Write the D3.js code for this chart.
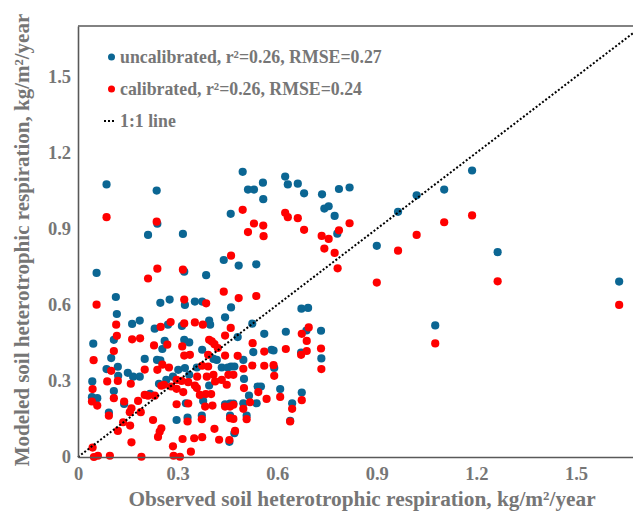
<!DOCTYPE html>
<html>
<head>
<meta charset="utf-8">
<script src="https://cdn.jsdelivr.net/npm/d3@7"></script>
<style>
  html, body { margin: 0; padding: 0; background: #fff; }
  svg { display: block; }
  text { font-family: "Liberation Serif", "Times New Roman", serif; font-weight: bold; }
</style>
</head>
<body>
<svg id="chart" width="633" height="512"></svg>
<script>
// ---- data (observed, modeled) in kg/m2/year ----
const uncalibrated = [
  [0.086,1.075],[0.237,1.051],[0.239,0.920],[0.211,0.876],[0.056,0.726],[0.114,0.631],[0.248,0.608],[0.276,0.621],
  [0.496,1.125],[0.512,1.055],[0.530,1.055],[0.557,1.082],[0.558,1.017],[0.460,0.959],[0.316,0.880],[0.439,0.777],
  [0.484,0.755],[0.537,0.760],[0.320,0.731],[0.386,0.717],[0.322,0.600],[0.352,0.613],[0.374,0.613],[0.461,0.590],
  [0.624,1.106],[0.632,1.075],[0.662,1.078],[0.681,1.040],[0.735,1.036],[0.786,1.057],[0.818,1.063],[0.742,0.980],
  [0.755,0.989],[0.773,0.951],[0.781,0.881],[0.673,0.585],[0.693,0.588],[1.187,1.130],[1.103,1.055],[1.020,1.032],
  [0.964,0.967],[0.900,0.833],[1.264,0.808],[1.630,0.692],[1.076,0.519],
  [0.626,0.494],[0.688,0.499],[0.732,0.498],[0.589,0.420],[0.672,0.412],[0.733,0.389],[0.591,0.351],[0.609,0.268],
  [0.674,0.254],[0.645,0.212],[0.639,0.143],
  [0.443,0.551],[0.395,0.538],[0.313,0.517],[0.398,0.522],[0.525,0.526],[0.561,0.486],[0.481,0.473],[0.320,0.462],
  [0.335,0.452],[0.374,0.423],[0.528,0.414],[0.583,0.423],[0.408,0.387],[0.418,0.383],[0.498,0.383],[0.302,0.344],
  [0.322,0.351],[0.358,0.353],[0.433,0.353],[0.451,0.353],[0.461,0.357],[0.471,0.357],[0.335,0.324],[0.500,0.308],
  [0.395,0.282],[0.541,0.278],[0.551,0.278],[0.515,0.242],[0.325,0.212],[0.377,0.221],[0.443,0.208],[0.458,0.211],
  [0.468,0.211],[0.498,0.212],[0.538,0.212],[0.330,0.155],[0.373,0.163],[0.458,0.163],[0.508,0.163],[0.297,0.146],
  [0.456,0.060],[0.471,0.094],
  [0.117,0.564],[0.163,0.525],[0.186,0.538],[0.271,0.522],[0.231,0.506],[0.108,0.462],[0.261,0.458],[0.046,0.447],
  [0.254,0.426],[0.100,0.390],[0.201,0.387],[0.238,0.383],[0.248,0.381],[0.120,0.356],[0.086,0.347],[0.150,0.332],
  [0.121,0.320],[0.166,0.317],[0.186,0.317],[0.043,0.298],[0.244,0.289],[0.266,0.304],[0.286,0.317],[0.108,0.260],
  [0.217,0.249],[0.042,0.236],[0.058,0.232],[0.139,0.209],[0.093,0.175]
];
const calibrated = [
  [0.086,0.946],[0.237,0.928],[0.239,0.743],[0.211,0.704],[0.056,0.601],[0.496,0.975],[0.530,0.921],[0.558,0.913],
  [0.512,0.887],[0.559,0.871],[0.461,0.794],[0.316,0.739],[0.439,0.652],[0.484,0.627],[0.537,0.635],[0.320,0.621],
  [0.386,0.606],[0.624,0.963],[0.632,0.946],[0.662,0.942],[0.681,0.896],[0.734,0.872],[0.755,0.860],[0.786,0.894],
  [0.818,0.922],[0.742,0.822],[0.773,0.805],[0.782,0.744],[1.187,0.953],[1.103,0.926],[1.020,0.876],[0.964,0.814],
  [0.900,0.688],[1.264,0.693],[1.630,0.600],[1.076,0.448],
  [0.695,0.511],[0.674,0.486],[0.689,0.458],[0.626,0.426],[0.672,0.403],[0.689,0.418],[0.732,0.428],[0.733,0.347],
  [0.589,0.362],[0.591,0.320],[0.609,0.237],[0.674,0.224],[0.645,0.190],[0.639,0.140],
  [0.320,0.527],[0.352,0.531],[0.376,0.522],[0.460,0.509],[0.443,0.479],[0.395,0.462],[0.403,0.456],[0.411,0.445],
  [0.526,0.449],[0.314,0.436],[0.421,0.430],[0.561,0.416],[0.320,0.400],[0.337,0.403],[0.392,0.403],[0.443,0.400],
  [0.481,0.399],[0.374,0.360],[0.392,0.357],[0.525,0.361],[0.561,0.360],[0.498,0.348],[0.453,0.324],[0.468,0.324],
  [0.359,0.317],[0.388,0.317],[0.408,0.324],[0.297,0.304],[0.312,0.300],[0.332,0.295],[0.352,0.282],[0.358,0.272],
  [0.413,0.298],[0.433,0.304],[0.448,0.285],[0.500,0.272],[0.297,0.269],[0.317,0.256],[0.367,0.245],[0.385,0.248],
  [0.401,0.248],[0.543,0.256],[0.568,0.229],[0.332,0.211],[0.383,0.199],[0.297,0.208],[0.405,0.203],[0.443,0.199],
  [0.458,0.199],[0.468,0.206],[0.498,0.190],[0.518,0.216],[0.330,0.140],[0.373,0.149],[0.458,0.153],[0.468,0.150],
  [0.508,0.149],[0.411,0.111],[0.473,0.103],[0.315,0.071],[0.350,0.074],[0.374,0.078],[0.425,0.068],[0.456,0.067],
  [0.340,0.021],[0.307,0.001],
  [0.115,0.522],[0.279,0.532],[0.249,0.513],[0.117,0.478],[0.163,0.464],[0.187,0.468],[0.229,0.440],[0.269,0.443],
  [0.108,0.418],[0.047,0.382],[0.254,0.364],[0.274,0.353],[0.100,0.340],[0.201,0.345],[0.239,0.344],[0.120,0.300],
  [0.088,0.298],[0.159,0.289],[0.251,0.281],[0.259,0.285],[0.281,0.278],[0.044,0.268],[0.201,0.245],[0.211,0.242],
  [0.231,0.242],[0.181,0.221],[0.042,0.219],[0.058,0.203],[0.108,0.232],[0.139,0.219],[0.161,0.192],[0.156,0.177],
  [0.189,0.177],[0.093,0.163],[0.226,0.146],[0.136,0.137],[0.157,0.124],[0.251,0.113],[0.246,0.100],[0.120,0.103],
  [0.241,0.079],[0.161,0.058],[0.286,0.042],[0.044,0.037],[0.048,0.000],[0.060,0.005],[0.096,0.005],[0.191,0.001],
  [0.288,0.005]
];
const oneToOne = [[0, 0], [1.7, 1.7]];
const xTicks = [0, 0.3, 0.6, 0.9, 1.2, 1.5];
const yTicks = [0, 0.3, 0.6, 0.9, 1.2, 1.5];
const legendLabels = [
  "uncalibrated, r\u00B2=0.26, RMSE=0.27",
  "calibrated, r\u00B2=0.26, RMSE=0.24",
  "1:1 line"
];
const xTitle = "Observed soil heterotrophic respiration, kg/m\u00B2/year";
const yTitle = "Modeled soil heterotrophic respiration, kg/m\u00B2/year";

// ---- layout ----
const W = 633, H = 512;
const plotLeft = 78, plotTop = 26, plotBottom = 457;
const pxPerUnit = 332;
const blue = "#0b6693", red = "#ff0000", grey = "#767676", axisGrey = "#595959";

const svg = d3.select("#chart");
svg.append("rect").attr("width", W).attr("height", H).attr("fill", "#fff");

const x = d3.scaleLinear().domain([0, 1.7]).range([plotLeft, plotLeft + 1.7 * pxPerUnit]);
const y = d3.scaleLinear().domain([0, 1.7]).range([plotBottom, plotTop]);

const fmt = d => d === 0 ? "0" : d3.format(".1f")(d);

// points
svg.append("g").selectAll("circle").data(uncalibrated).join("circle")
  .attr("cx", d => x(d[0])).attr("cy", d => y(d[1])).attr("r", 4.1).attr("fill", blue);
svg.append("g").selectAll("circle").data(calibrated).join("circle")
  .attr("cx", d => x(d[0])).attr("cy", d => y(d[1])).attr("r", 4.1).attr("fill", red);

// 1:1 line
svg.append("path")
  .attr("d", d3.line().x(d => x(d[0])).y(d => y(d[1]))(oneToOne))
  .attr("stroke", "#000").attr("stroke-width", 2).attr("stroke-dasharray", "2,2")
  .attr("fill", "none");

// axes
const xAxis = svg.append("g").attr("transform", `translate(0,${plotBottom})`)
  .call(d3.axisBottom(x).tickValues(xTicks).tickFormat(fmt).tickSize(0).tickPadding(10));
const yAxis = svg.append("g").attr("transform", `translate(${plotLeft},0)`)
  .call(d3.axisLeft(y).tickValues(yTicks).tickFormat(fmt).tickSize(0).tickPadding(7));
[xAxis, yAxis].forEach(g => {
  g.select(".domain").attr("stroke", axisGrey).attr("stroke-width", 1.6);
  g.selectAll("text").attr("fill", grey).attr("font-size", 18.5)
    .attr("font-family", "'Liberation Serif', 'Times New Roman', serif").attr("font-weight", "bold");
});
// top border
svg.append("line").attr("x1", x(0)).attr("x2", W + 10).attr("y1", y(1.7)).attr("y2", y(1.7))
  .attr("stroke", axisGrey).attr("stroke-width", 1.6);

// axis titles
svg.append("text").attr("x", 362).attr("y", 506).attr("text-anchor", "middle")
  .attr("font-size", 21.3).attr("fill", grey).text(xTitle);
svg.append("text").attr("transform", `translate(29,240) rotate(-90)`)
  .attr("text-anchor", "middle").attr("font-size", 21).attr("fill", grey).text(yTitle);

// legend
const lg = svg.append("g");
const rows = [57, 89, 121];
lg.append("circle").attr("cx", 111.5).attr("cy", rows[0]).attr("r", 3.5).attr("fill", blue);
lg.append("circle").attr("cx", 111.5).attr("cy", rows[1]).attr("r", 3.5).attr("fill", red);
lg.append("line").attr("x1", 104).attr("x2", 116).attr("y1", rows[2]).attr("y2", rows[2])
  .attr("stroke", "#000").attr("stroke-width", 2).attr("stroke-dasharray", "2,2");
legendLabels.forEach((t, i) => {
  lg.append("text").attr("x", 120).attr("y", rows[i] + 6).attr("font-size", 17.8)
    .attr("fill", grey).text(t);
});
</script>
</body>
</html>
